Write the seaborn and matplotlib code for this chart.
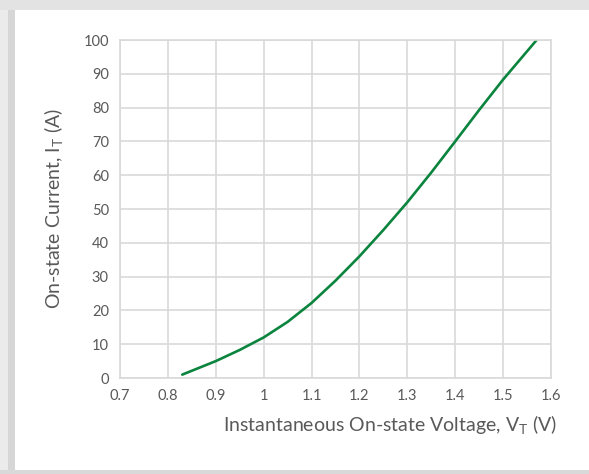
import pandas as pd
import matplotlib.pyplot as plt
import seaborn as sns
from matplotlib.patches import Rectangle

# on-state characteristic
voltage = [0.83, 0.90, 0.95, 1.00, 1.05, 1.10, 1.15, 1.20, 1.25, 1.30, 1.35, 1.40, 1.45, 1.50, 1.57]
current = [1.0, 5.0, 8.3, 12.0, 16.6, 22.2, 28.8, 36.0, 43.8, 52.0, 60.8, 70.0, 79.3, 88.3, 100.0]
x_ticks = [0.7, 0.8, 0.9, 1.0, 1.1, 1.2, 1.3, 1.4, 1.5, 1.6]
x_tick_labels = ['0.7', '0.8', '0.9', '1', '1.1', '1.2', '1.3', '1.4', '1.5', '1.6']
y_ticks = [0, 10, 20, 30, 40, 50, 60, 70, 80, 90, 100]

df = pd.DataFrame({'VT': voltage, 'IT': current})

sns.set_style('white')
plt.rcParams['font.family'] = ['Lato', 'DejaVu Sans']
text_col = '#595959'
grid_col = '#d9d9d9'

fig = plt.figure(figsize=(5.89, 4.74), dpi=100)
fig.patch.set_facecolor('white')

# grey frame around the chart panel
fig.patches.append(Rectangle((0, 0), 15 / 589, 1, transform=fig.transFigure,
                             facecolor='#ebebeb', edgecolor='none', zorder=0))
fig.patches.append(Rectangle((8 / 589, 0), 7 / 589, 1, transform=fig.transFigure,
                             facecolor='#d6d6d6', edgecolor='none', zorder=0))
fig.patches.append(Rectangle((0, 1 - 10 / 474), 1, 10 / 474, transform=fig.transFigure,
                             facecolor='#e3e3e3', edgecolor='none', zorder=0))
fig.patches.append(Rectangle((0, 0), 1, 4 / 474, transform=fig.transFigure,
                             facecolor='#d9d9d9', edgecolor='none', zorder=0))

ax = fig.add_axes([120 / 589, 1 - 378 / 474, 431 / 589, 338 / 474])
sns.lineplot(data=df, x='VT', y='IT', ax=ax, color='#0b843e', linewidth=1.9)

ax.set_xlim(0.7, 1.6)
ax.set_ylim(0, 100)
ax.set_xticks(x_ticks)
ax.set_xticklabels(x_tick_labels)
ax.set_yticks(y_ticks)
ax.grid(True, color=grid_col, linewidth=1.2)
ax.set_axisbelow(True)
for s in ax.spines.values():
    s.set_color(grid_col)
    s.set_linewidth(1.2)
ax.tick_params(length=0, labelsize=10.5, labelcolor=text_col, pad=8)

ax.set_xlabel(r'Instantaneous On-state Voltage, V$_{\mathregular{T}}$ (V)',
              fontsize=14, color=text_col, loc='right')
ax.xaxis.set_label_coords(437 / 431, -0.105)
ax.set_ylabel(r'On-state Current, I$_{\mathregular{T}}$ (A)',
              fontsize=14, color=text_col)
ax.yaxis.set_label_coords(-0.125, 0.5)

plt.savefig('out.png', dpi=100)
